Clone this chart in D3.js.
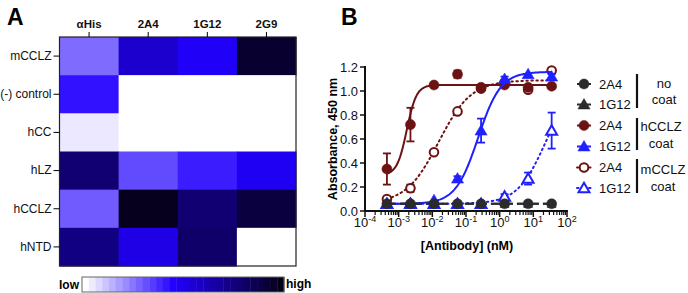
<!DOCTYPE html>
<html>
<head>
<meta charset="utf-8">
<script src="https://cdn.jsdelivr.net/npm/d3@7"></script>
<style>
  body { margin: 0; background: #fff; }
  svg { display: block; font-family: "Liberation Sans", Arial, sans-serif; }
</style>
</head>
<body>
<svg id="chart" width="688" height="293"></svg>
<script>
'use strict';

// ---- panel A data (relative signal, null = not tested)
const heatCols = ["αHis", "2A4", "1G12", "2G9"];
const heatRows = ["mCCLZ", "(-) control", "hCC", "hLZ", "hCCLZ", "hNTD"];
const heatValues = [
    [0.26, 0.57, 0.47, 0.95],
    [0.42, null, null, null],
    [0.04, null, null, null],
    [0.79, 0.32, 0.40, 0.48],
    [0.29, 0.99, 0.79, 0.91],
    [0.75, 0.51, 0.81, null]
];

// ---- panel B data
const conc = [0.000448, 0.00224, 0.0112, 0.056, 0.28, 1.4, 7, 35];
const xTickExps = [-4, -3, -2, -1, 0, 1, 2];
const yTicks = [0.0, 0.2, 0.4, 0.6, 0.8, 1.0, 1.2];

const noCoat2A4 = [0.06, 0.06, 0.06, 0.06, 0.06, 0.06, 0.06, 0.06];
const noCoat1G12 = [0.06, 0.06, 0.06, 0.06, 0.06, 0.06, 0.06, 0.06];
const hCCLZ2A4 = [0.35, 0.72, 1.05, 1.14, 1.03, 1.05, 1.03, 1.04];
const hCCLZ2A4Err = [0.13, 0.14, 0.01, 0.03, 0.01, 0.01, 0.01, 0.01];
const hCCLZ1G12 = [0.06, 0.065, 0.09, 0.27, 0.67, 1.10, 1.14, 1.12];
const hCCLZ1G12Err = [0, 0, 0.01, 0.02, 0.10, 0.02, 0.01, 0.02];
const mCCLZ2A4 = [0.10, 0.19, 0.49, 0.83, 1.02, 1.07, 1.01, 1.17];
const mCCLZ2A4Err = [0.01, 0.03, 0.01, 0.01, 0.01, 0.01, 0.01, 0.02];
const mCCLZ1G12 = [0.06, 0.06, 0.06, 0.06, 0.06, 0.12, 0.27, 0.67];
const mCCLZ1G12Err = [0, 0, 0, 0, 0, 0.02, 0.05, 0.15];

// fitted 4PL curves: bottom, top, EC50 (nM), hill
const fitNoCoat2A4 = [0.06, 0.06, 1, 1];
const fitNoCoat1G12 = [0.06, 0.06, 1, 1];
const fitHCCLZ2A4 = [0.30, 1.05, 0.00174, 3];
const fitHCCLZ1G12 = [0.06, 1.16, 0.229, 1.3];
const fitMCCLZ2A4 = [0.06, 1.09, 0.0154, 0.9];
const fitMCCLZ1G12 = [0.06, 1.10, 23.7, 1.03];

const darkRed = "#6b1212";
const blue = "#2020ff";
const black = "#2b2b2b";

const series = [
    { name: "2A4", values: mCCLZ2A4, err: mCCLZ2A4Err, fit: fitMCCLZ2A4, color: darkRed, shape: "circle", open: true, dash: "1.5,3.5" },
    { name: "1G12", values: mCCLZ1G12, err: mCCLZ1G12Err, fit: fitMCCLZ1G12, color: blue, shape: "triangle", open: true, dash: "1.5,3.5" },
    { name: "2A4", values: hCCLZ2A4, err: hCCLZ2A4Err, fit: fitHCCLZ2A4, color: darkRed, shape: "circle", open: false, dash: null },
    { name: "1G12", values: hCCLZ1G12, err: hCCLZ1G12Err, fit: fitHCCLZ1G12, color: blue, shape: "triangle", open: false, dash: null },
    { name: "1G12", values: noCoat1G12, err: null, fit: fitNoCoat1G12, color: black, shape: "triangle", open: false, dash: "9,4", small: true },
    { name: "2A4", values: noCoat2A4, err: null, fit: fitNoCoat2A4, color: black, shape: "circle", open: false, dash: "9,4" }
];

const svg = d3.select("#chart");

// ================= panel A =================
svg.append("text").attr("x", 7).attr("y", 25)
    .style("font-size", "23px").style("font-weight", "bold").text("A");

const hx = d3.scaleBand().domain(heatCols).range([59.5, 296]);
const hy = d3.scaleBand().domain(heatRows).range([37, 266]);

const heatColor = d3.scaleLinear()
    .domain([0, 0.45, 1])
    .range(["#ffffff", "#2200ff", "#05001a"]);

const cells = [];
heatRows.forEach((r, i) => heatCols.forEach((c, j) => cells.push({ r, c, v: heatValues[i][j] })));

svg.append("g").selectAll("rect")
    .data(cells)
    .enter()
    .append("rect")
    .attr("x", d => hx(d.c))
    .attr("y", d => hy(d.r))
    .attr("width", hx.bandwidth() + 0.5)
    .attr("height", hy.bandwidth() + 0.5)
    .attr("fill", d => d.v === null ? "#ffffff" : heatColor(d.v));

svg.append("rect")
    .attr("x", 59.5).attr("y", 37)
    .attr("width", 296 - 59.5).attr("height", 266 - 37)
    .attr("fill", "none").attr("stroke", "#222").attr("stroke-width", 1.2);

const topAxis = svg.append("g")
    .attr("transform", "translate(0,37)")
    .call(d3.axisTop(hx).tickSize(5).tickPadding(4));
topAxis.select(".domain").remove();
topAxis.selectAll("text")
    .style("font-size", "11.5px").style("font-weight", "bold")
    .style("font-family", "Liberation Sans, Arial, sans-serif").attr("fill", "#111");

const leftAxis = svg.append("g")
    .attr("transform", "translate(59.5,0)")
    .call(d3.axisLeft(hy).tickSize(6).tickPadding(2));
leftAxis.select(".domain").remove();
leftAxis.selectAll("text")
    .style("font-size", "12px")
    .style("font-family", "Liberation Sans, Arial, sans-serif").attr("fill", "#111");

// colour bar
const nSteps = 30;
const barX = d3.scaleLinear().domain([0, nSteps]).range([82, 284]);
svg.append("g").selectAll("rect")
    .data(d3.range(nSteps))
    .enter()
    .append("rect")
    .attr("x", d => barX(d))
    .attr("y", 277)
    .attr("width", barX(1) - barX(0) + 0.4)
    .attr("height", 15)
    .attr("fill", d => heatColor(d / (nSteps - 1)));
svg.append("rect")
    .attr("x", 82).attr("y", 277).attr("width", 202).attr("height", 15)
    .attr("fill", "none").attr("stroke", "#666").attr("stroke-width", 1);
svg.append("text").attr("x", 79).attr("y", 289).attr("text-anchor", "end")
    .style("font-size", "12px").style("font-weight", "bold").text("low");
svg.append("text").attr("x", 286).attr("y", 288)
    .style("font-size", "12px").style("font-weight", "bold").text("high");

// ================= panel B =================
svg.append("text").attr("x", 341).attr("y", 25)
    .style("font-size", "23px").style("font-weight", "bold").text("B");

const x = d3.scaleLog().domain([1e-4, 1e2]).range([365, 567]);
const y = d3.scaleLinear().domain([0, 1.2]).range([211, 67]);

// axes
const gx = svg.append("g").attr("transform", "translate(0,211)");
gx.append("line").attr("x1", 364).attr("x2", 568).attr("stroke", "#111").attr("stroke-width", 2);
const minor = [];
xTickExps.slice(0, -1).forEach(e => d3.range(2, 10).forEach(m => minor.push(m * Math.pow(10, e))));
gx.selectAll(".minor").data(minor).enter().append("line")
    .attr("x1", d => x(d)).attr("x2", d => x(d)).attr("y1", 0).attr("y2", 4)
    .attr("stroke", "#111").attr("stroke-width", 1.2);
gx.selectAll(".major").data(xTickExps).enter().append("line")
    .attr("x1", d => x(Math.pow(10, d))).attr("x2", d => x(Math.pow(10, d)))
    .attr("y1", 0).attr("y2", 6).attr("stroke", "#111").attr("stroke-width", 1.5);
const xt = gx.selectAll(".lab").data(xTickExps).enter().append("text")
    .attr("x", d => x(Math.pow(10, d)))
    .attr("y", 16)
    .attr("text-anchor", "middle")
    .style("font-size", "13px").attr("fill", "#111");
xt.append("tspan").text("10");
xt.append("tspan").attr("dy", -5).style("font-size", "9px").text(d => String(d));

const gy = svg.append("g").attr("transform", "translate(365,0)");
gy.append("line").attr("y1", 66).attr("y2", 212).attr("stroke", "#111").attr("stroke-width", 2);
gy.selectAll(".tk").data(yTicks).enter().append("line")
    .attr("x1", -5).attr("x2", 0).attr("y1", d => y(d)).attr("y2", d => y(d))
    .attr("stroke", "#111").attr("stroke-width", 1.5);
gy.selectAll(".lab").data(yTicks).enter().append("text")
    .attr("x", -7).attr("y", d => y(d)).attr("dy", "0.36em")
    .attr("text-anchor", "end")
    .style("font-size", "13px").attr("fill", "#111")
    .text(d => d.toFixed(1));

svg.append("text")
    .attr("transform", "translate(337,139) rotate(-90)")
    .attr("text-anchor", "middle")
    .style("font-size", "12.5px").style("font-weight", "bold")
    .text("Absorbance, 450 nm");
svg.append("text")
    .attr("x", 467).attr("y", 250)
    .attr("text-anchor", "middle")
    .style("font-size", "12.5px").style("font-weight", "bold")
    .text("[Antibody] (nM)");

// curves
const fourPL = (p, c) => p[0] + (p[1] - p[0]) / (1 + Math.pow(p[2] / c, p[3]));
const logMin = Math.log10(conc[0]);
const logMax = Math.log10(conc[conc.length - 1]);
const line = d3.line().x(d => x(d[0])).y(d => y(d[1]));

const plot = svg.append("g");
const symbolOf = (shape, open, small) => d3.symbol()
    .type(shape === "circle" ? d3.symbolCircle : d3.symbolTriangle)
    .size(small ? 36 : shape === "circle" ? (open ? 58 : 80) : (open ? 52 : 64));

series.forEach(s => {
    const pts = d3.range(0, 201).map(i => {
        const c = Math.pow(10, logMin + (logMax - logMin) * i / 200);
        return [c, fourPL(s.fit, c)];
    });
    const path = plot.append("path")
        .attr("d", line(pts))
        .attr("fill", "none")
        .attr("stroke", s.color)
        .attr("stroke-width", 2);
    if (s.dash) path.attr("stroke-dasharray", s.dash).attr("stroke-linecap", s.dash.startsWith("1.5") ? "round" : "butt");

    if (s.err) {
        const eg = plot.append("g").attr("stroke", s.color).attr("stroke-width", 1.8);
        s.values.forEach((v, i) => {
            const e = s.err[i];
            if (e < 0.02) return;
            const cx = x(conc[i]);
            eg.append("line").attr("x1", cx).attr("x2", cx).attr("y1", y(v - e)).attr("y2", y(v + e));
            eg.append("line").attr("x1", cx - 4).attr("x2", cx + 4).attr("y1", y(v - e)).attr("y2", y(v - e));
            eg.append("line").attr("x1", cx - 4).attr("x2", cx + 4).attr("y1", y(v + e)).attr("y2", y(v + e));
        });
    }

    plot.append("g").selectAll("path")
        .data(s.values)
        .enter()
        .append("path")
        .attr("transform", (v, i) => `translate(${x(conc[i])},${y(v) + (s.shape === "triangle" ? 1 : 0)})`)
        .attr("d", symbolOf(s.shape, s.open, s.small))
        .attr("fill", s.open ? "#fff" : s.color)
        .attr("stroke", s.color)
        .attr("stroke-width", s.open ? 2 : 0.5);
});

// legend
const legendRows = [
    { name: "2A4", color: black, shape: "circle", open: false },
    { name: "1G12", color: black, shape: "triangle", open: false },
    { name: "2A4", color: darkRed, shape: "circle", open: false },
    { name: "1G12", color: blue, shape: "triangle", open: false },
    { name: "2A4", color: darkRed, shape: "circle", open: true, dash: "1.5,2.5" },
    { name: "1G12", color: blue, shape: "triangle", open: true, dash: "1.5,2.5" }
];
const legendY = [84, 104.5, 125.5, 146.5, 167.5, 188];
const lg = svg.append("g");
legendRows.forEach((r, i) => {
    const ly = legendY[i];
    const ln = lg.append("line").attr("x1", 577).attr("x2", 591).attr("y1", ly).attr("y2", ly)
        .attr("stroke", r.color).attr("stroke-width", 2);
    if (r.dash) ln.attr("stroke-dasharray", r.dash).attr("stroke-linecap", "round");
    lg.append("path")
        .attr("transform", `translate(584,${ly + (r.shape === "triangle" ? 1 : 0)})`)
        .attr("d", symbolOf(r.shape, r.open))
        .attr("fill", r.open ? "#fff" : r.color)
        .attr("stroke", r.color)
        .attr("stroke-width", r.open ? 2 : 0.5);
    lg.append("text").attr("x", 599).attr("y", ly).attr("dy", "0.36em")
        .style("font-size", "13px").attr("fill", "#111").text(r.name);
});

const groups = [
    { y1: 74, y2: 108, l1: "no", l2: "coat", t1: 88, t2: 104, cx: 664 },
    { y1: 118, y2: 150, l1: "hCCLZ", l2: "coat", t1: 131, t2: 148, cx: 661 },
    { y1: 159, y2: 193, l1: "mCCLZ", l2: "coat", t1: 174, t2: 191, cx: 663 }
];
groups.forEach(g => {
    lg.append("line").attr("x1", 637).attr("x2", 637).attr("y1", g.y1).attr("y2", g.y2)
        .attr("stroke", "#111").attr("stroke-width", 2.2);
    lg.append("text").attr("x", g.cx).attr("y", g.t1).attr("text-anchor", "middle")
        .style("font-size", "13px").attr("fill", "#111").text(g.l1);
    lg.append("text").attr("x", g.cx).attr("y", g.t2).attr("text-anchor", "middle")
        .style("font-size", "13px").attr("fill", "#111").text(g.l2);
});
</script>
</body>
</html>
